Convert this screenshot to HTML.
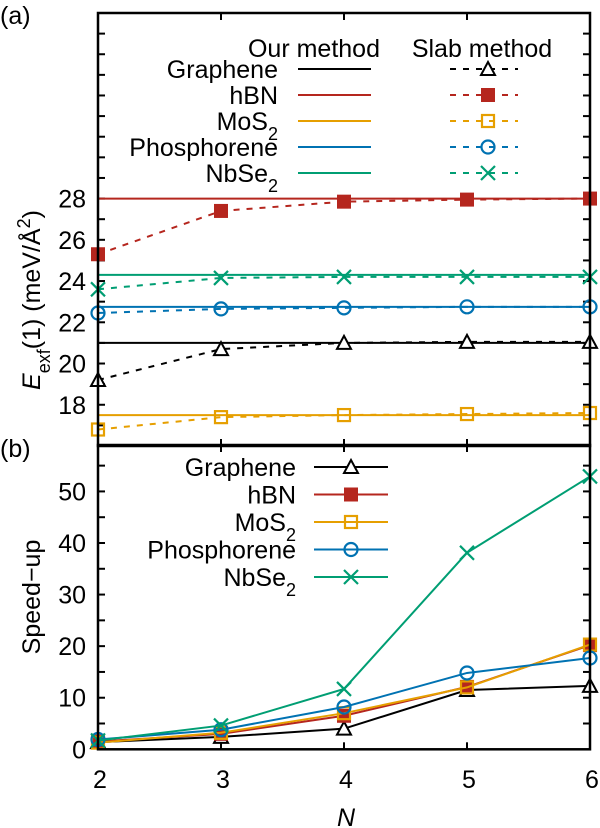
<!DOCTYPE html>
<html><head><meta charset="utf-8"><style>
body{margin:0;background:#fff}
svg{display:block;font-family:"Liberation Sans",sans-serif}
</style></head><body>
<svg id="chart" width="600" height="828" viewBox="0 0 600 828" xmlns="http://www.w3.org/2000/svg"></svg>
<script>
const Ns=[2,3,4,5,6];
const names=['Graphene','hBN','MoS2','Phosphorene','NbSe2'];
const colors=['#000000','#b5261e','#e69f00','#0072b2','#009e73'];
const markers=['tri','sqf','sqo','circ','x'];
const ourVals=[21.0,28.0,17.5,22.75,24.3];
const slabGraphene=[19.2,20.7,21.0,21.05,21.05];
const slabHBN=[25.3,27.4,27.85,27.95,28.0];
const slabMoS2=[16.8,17.4,17.5,17.55,17.6];
const slabPhos=[22.45,22.65,22.7,22.75,22.75];
const slabNbSe2=[23.6,24.15,24.2,24.2,24.2];
const spGraphene=[1.4,2.4,4.0,11.5,12.3];
const spHBN=[1.5,3.0,6.5,12.1,20.2];
const spMoS2=[1.3,3.2,7.0,12.0,20.3];
const spPhos=[1.9,3.8,8.2,14.8,17.7];
const spNbSe2=[1.7,4.6,11.7,38.1,52.9];
const yTicksA=[18,20,22,24,26,28];
const yTicksB=[0,10,20,30,40,50];
const slab=[slabGraphene,slabHBN,slabMoS2,slabPhos,slabNbSe2];
const sp=[spGraphene,spHBN,spMoS2,spPhos,spNbSe2];

const svg=document.getElementById('chart');
const NS='http://www.w3.org/2000/svg';
const FS=25, SUB=18;
const L=98,R=590;
const xS=n=>L+(n-2)*(R-L)/4;
const aTop=13,aBot=446,aMin=16,aMax=37;
const yA=v=>aBot-(v-aMin)*(aBot-aTop)/(aMax-aMin);
const bTop=445,bBot=749.3,bMin=0,bMax=59;
const yB=v=>bBot-(v-bMin)*(bBot-bTop)/(bMax-bMin);
function mk(tag,at,parent){const e=document.createElementNS(NS,tag);for(const k in at)e.setAttribute(k,at[k]);(parent||svg).appendChild(e);return e;}
function txt(s,at,parent){const t=mk('text',at,parent);t.innerHTML=s;return t;}
function marker(type,x,y,c,g){
  const s=7;
  if(type==='tri')mk('polygon',{points:`${x},${y-s} ${x-s},${y+s-1} ${x+s},${y+s-1}`,fill:'#fff',stroke:c,'stroke-width':2},g);
  else if(type==='sqf')mk('rect',{x:x-s,y:y-s,width:2*s,height:2*s,fill:c},g);
  else if(type==='sqo')mk('rect',{x:x-s+1,y:y-s+1,width:2*s-2,height:2*s-2,fill:'none',stroke:c,'stroke-width':2.2},g);
  else if(type==='circ')mk('circle',{cx:x,cy:y,r:s-0.5,fill:'none',stroke:c,'stroke-width':2.2},g);
  else{mk('path',{d:`M${x-s} ${y-s}L${x+s} ${y+s}M${x-s} ${y+s}L${x+s} ${y-s}`,stroke:c,'stroke-width':2.2},g);}
}
function label(name){return name.replace(/(\d)$/,'<tspan baseline-shift="sub" font-size="'+SUB+'">$1</tspan>');}

const defs=mk('defs',{});
const cA=mk('clipPath',{id:'ca'},defs);mk('rect',{x:L,y:aTop,width:R-L,height:aBot-aTop},cA);

const ax=mk('g',{});
for(let v=17;v<=36;v++){
  const y=yA(v);
  mk('line',{x1:L,x2:L+7,y1:y,y2:y,stroke:'#000','stroke-width':2},ax);
  mk('line',{x1:R,x2:R-7,y1:y,y2:y,stroke:'#000','stroke-width':2},ax);
}
yTicksA.forEach(v=>{const t=txt(String(v),{x:L-12,y:yA(v)+9,'text-anchor':'end','font-size':FS},ax);});
Ns.forEach(n=>{mk('line',{x1:xS(n),x2:xS(n),y1:aTop,y2:aTop+7,stroke:'#000','stroke-width':2},ax);mk('line',{x1:xS(n),x2:xS(n),y1:aBot,y2:aBot-7,stroke:'#000','stroke-width':2},ax);});

const ga=mk('g',{'clip-path':'url(#ca)',});
names.forEach((nm,i)=>{
  const l=mk('line',{x1:L,x2:R,y1:yA(ourVals[i]),y2:yA(ourVals[i]),stroke:colors[i],'stroke-width':2},ga);
  
  
  const p=mk('polyline',{points:Ns.map((n,j)=>xS(n)+','+yA(slab[i][j])).join(' '),fill:'none',stroke:colors[i],'stroke-width':2,'stroke-dasharray':'6,7'},ga);
  
  
});
const gam=mk('g',{});
names.forEach((nm,i)=>Ns.forEach((n,j)=>marker(markers[i],xS(n),yA(slab[i][j]),colors[i],gam)));
mk('rect',{x:L,y:aTop,width:R-L,height:aBot-aTop,fill:'none',stroke:'#000','stroke-width':2.5,});

const lga=mk('g',{});
txt('Our method',{x:380,y:57,'text-anchor':'end','font-size':FS},lga);
txt('Slab method',{x:482,y:57,'text-anchor':'middle','font-size':FS},lga);
names.forEach((nm,i)=>{
  const y=69+i*26;
  const t=txt(label(nm),{x:278,y:y+9,'text-anchor':'end','font-size':FS},lga);
  
  
  mk('line',{x1:298,x2:371,y1:y,y2:y,stroke:colors[i],'stroke-width':2},lga);
  mk('line',{x1:450,x2:518,y1:y,y2:y,stroke:colors[i],'stroke-width':2,'stroke-dasharray':'6,7'},lga);
  marker(markers[i],488,y,colors[i],lga);
});

const bx=mk('g',{});
for(let v=5;v<=55;v+=5){
  const y=yB(v);
  mk('line',{x1:L,x2:L+7,y1:y,y2:y,stroke:'#000','stroke-width':2},bx);
  mk('line',{x1:R,x2:R-7,y1:y,y2:y,stroke:'#000','stroke-width':2},bx);
}
yTicksB.forEach(v=>{const t=txt(String(v),{x:L-12,y:yB(v)+9,'text-anchor':'end','font-size':FS},bx);});
Ns.forEach(n=>{
  mk('line',{x1:xS(n),x2:xS(n),y1:bTop,y2:bTop+7,stroke:'#000','stroke-width':2},bx);
  mk('line',{x1:xS(n),x2:xS(n),y1:bBot,y2:bBot-7,stroke:'#000','stroke-width':2},bx);
  const t=txt(String(n),{x:xS(n)+2,y:788,'text-anchor':'middle','font-size':FS},bx);
  
  
});
const gb=mk('g',{});
names.forEach((nm,i)=>{
  const p=mk('polyline',{points:Ns.map((n,j)=>xS(n)+','+yB(sp[i][j])).join(' '),fill:'none',stroke:colors[i],'stroke-width':2},gb);
  
  
  Ns.forEach((n,j)=>marker(markers[i],xS(n),yB(sp[i][j]),colors[i],gb));
});
mk('rect',{x:L,y:bTop,width:R-L,height:bBot-bTop,fill:'none',stroke:'#000','stroke-width':2.5,});

const lgb=mk('g',{});
names.forEach((nm,i)=>{
  const y=467+i*27.5;
  const t=txt(label(nm),{x:296,y:y+9,'text-anchor':'end','font-size':FS},lgb);
  
  
  mk('line',{x1:314,x2:388,y1:y,y2:y,stroke:colors[i],'stroke-width':2},lgb);
  marker(markers[i],351,y,colors[i],lgb);
});

txt('(a)',{x:0,y:24,'font-size':FS,});
txt('(b)',{x:0,y:457,'font-size':FS,});
txt('<tspan font-style="italic">E</tspan><tspan baseline-shift="sub" font-size="'+SUB+'">exf</tspan>(1) (meV/Å<tspan baseline-shift="super" font-size="'+SUB+'">2</tspan>)',{transform:'translate(40,300) rotate(-90)','text-anchor':'middle','font-size':FS,});
txt('Speed−up',{transform:'translate(40,597) rotate(-90)','text-anchor':'middle','font-size':FS,});
txt('N',{x:346,y:826,'text-anchor':'middle','font-size':FS,'font-style':'italic',});
</script>
</body></html>
